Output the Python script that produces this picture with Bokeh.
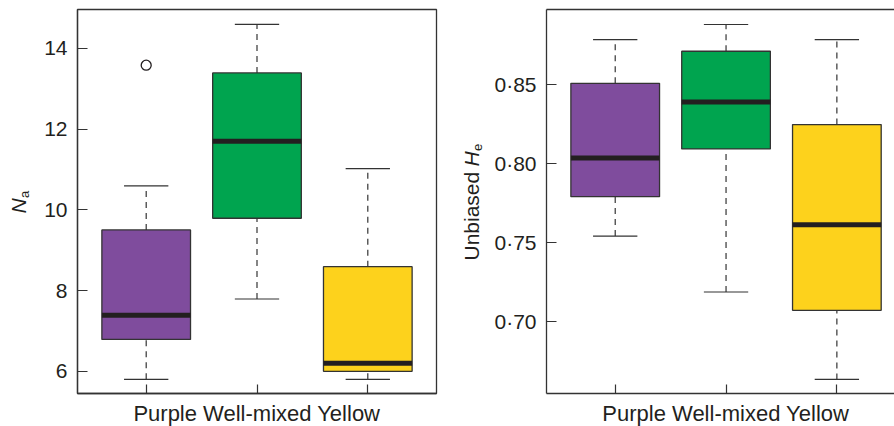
from bokeh.plotting import figure
from bokeh.models import Range1d, FixedTicker, Label, LinearAxis, GridBox
from bokeh.embed import file_html
from bokeh.resources import INLINE

# ---------------- data ----------------
groups = ["Purple", "Well-mixed", "Yellow"]
colors = ["#7F4C9D", "#00A44F", "#FDD21C"]

na_low = [5.80, 7.79, 5.80]
na_q1 = [6.79, 9.79, 6.00]
na_med = [7.39, 11.70, 6.20]
na_q3 = [9.50, 13.39, 8.59]
na_high = [10.59, 14.59, 11.02]
na_outlier_group = ["Purple"]
na_outlier_value = [13.58]
na_ticks = [6, 8, 10, 12, 14]

he_low = [0.7542, 0.7188, 0.6635]
he_q1 = [0.7791, 0.8093, 0.7072]
he_med = [0.8036, 0.8390, 0.7614]
he_q3 = [0.8508, 0.8711, 0.8247]
he_high = [0.8785, 0.8880, 0.8785]
he_ticks = [0.70, 0.75, 0.80, 0.85]
he_tick_labels = ["0·70", "0·75", "0·80", "0·85"]

x_label = "Purple Well-mixed Yellow"

# ---------------- style ----------------
FONT = "Liberation Sans"
TXT = "#231F20"
EDGE = "#333333"
FS = "21px"
W, H = 894, 426


def make_panel(width, border_left, border_right, x_end, y_start, y_end,
               low, q1, med, q3, high, ticks, tick_labels=None, outline=True):
    p = figure(width=width, height=H, output_backend="svg", toolbar_location=None,
               x_range=Range1d(0.38, x_end), y_range=Range1d(y_start, y_end),
               min_border_left=border_left, min_border_right=border_right,
               min_border_top=9, min_border_bottom=33)
    p.frame_align = False
    p.grid.visible = False
    p.background_fill_color = "white"
    p.border_fill_color = "white"

    xs = [i + 1 for i in range(len(groups))]
    # whiskers (dashed)
    p.segment(x0=xs, y0=q3, x1=xs, y1=high, line_color=EDGE, line_width=1.2, line_dash="6 5")
    p.segment(x0=xs, y0=low, x1=xs, y1=q1, line_color=EDGE, line_width=1.2, line_dash="6 5")
    # caps
    p.segment(x0=[x - 0.2 for x in xs], y0=high, x1=[x + 0.2 for x in xs], y1=high,
              line_color=EDGE, line_width=1.2)
    p.segment(x0=[x - 0.2 for x in xs], y0=low, x1=[x + 0.2 for x in xs], y1=low,
              line_color=EDGE, line_width=1.2)
    # boxes
    p.vbar(x=xs, width=0.8, bottom=q1, top=q3, fill_color=colors,
           line_color=EDGE, line_width=1.3)
    # medians
    p.segment(x0=[x - 0.4 for x in xs], y0=med, x1=[x + 0.4 for x in xs], y1=med,
              line_color=TXT, line_width=5, line_cap="butt")

    # axes
    for ax in (p.xaxis, p.yaxis):
        ax.axis_line_color = EDGE
        ax.axis_line_width = 1.3
        ax.major_tick_line_color = EDGE
        ax.major_tick_line_width = 1.2
        ax.major_tick_out = 0
        ax.minor_tick_line_color = None
    p.xaxis.ticker = FixedTicker(ticks=xs)
    p.xaxis.major_tick_in = 9
    p.xaxis.major_label_overrides = {x: "" for x in xs}
    p.xaxis.major_label_text_font_size = "1px"
    p.xaxis.major_label_standoff = 0
    p.yaxis.ticker = FixedTicker(ticks=ticks)
    p.yaxis.major_tick_in = 10
    p.yaxis.major_label_text_font = FONT
    p.yaxis.major_label_text_font_size = FS
    p.yaxis.major_label_text_color = TXT
    p.yaxis.major_label_standoff = 10
    if tick_labels is not None:
        p.yaxis.major_label_overrides = {t: s for t, s in zip(ticks, tick_labels)}

    if outline:
        p.outline_line_color = EDGE
        p.outline_line_width = 1.3
    else:
        p.outline_line_color = None
        top = LinearAxis(ticker=FixedTicker(ticks=[]), major_label_text_font_size="1px",
                         major_tick_in=0, major_tick_out=0, minor_tick_in=0, minor_tick_out=0,
                         axis_line_color=EDGE, axis_line_width=1.3, major_label_standoff=0)
        p.add_layout(top, "above")
    return p, xs


# ---------------- left panel ----------------
p1, xs1 = make_panel(447, 77, 11, 3.62, 5.45, 14.96,
                     na_low, na_q1, na_med, na_q3, na_high, na_ticks)
ox = [groups.index(g) + 1 for g in na_outlier_group]
p1.scatter(x=ox, y=na_outlier_value, size=10, marker="circle", fill_color=None,
           line_color=TXT, line_width=1.3)

# ---------------- right panel ----------------
p2, xs2 = make_panel(447, 99, 0, 3.52, 0.6546, 0.8975,
                     he_low, he_q1, he_med, he_q3, he_high, he_ticks,
                     tick_labels=he_tick_labels, outline=False)

# ---------------- transparent overlay for axis titles (page pixel space) ----------------
ov = figure(width=W, height=H, output_backend="svg", toolbar_location=None,
            x_range=Range1d(0, W), y_range=Range1d(H, 0),
            x_axis_type=None, y_axis_type=None,
            min_border_left=0, min_border_right=0, min_border_top=0, min_border_bottom=0)
ov.frame_align = False
ov.grid.visible = False
ov.outline_line_color = None
ov.background_fill_color = None
ov.border_fill_color = None


def add_label(text, px, py, size=FS, italic=False, angle=1.5707963, align="left"):
    ov.add_layout(Label(x=px, y=py, text=text, angle=angle, text_align=align,
                        text_baseline="alphabetic", text_font=FONT, text_font_size=size,
                        text_color=TXT, text_font_style="italic" if italic else "normal"))


add_label("N", 18, 213, italic=True)
add_label("a", 24, 197.5, size="13px")
add_label("Unbiased", 471, 260)
add_label("H", 471, 166, italic=True)
add_label("e", 476.5, 150.5, size="13px")
add_label(x_label, 256.4, 412.5, size="22px", angle=0, align="center")
add_label(x_label, 725.3, 412.5, size="22px", angle=0, align="center")

layout = GridBox(children=[(p1, 0, 0), (p2, 0, 1), (ov, 0, 0, 1, 2)], spacing=0)
open("out.html", "w").write(file_html(layout, INLINE))
